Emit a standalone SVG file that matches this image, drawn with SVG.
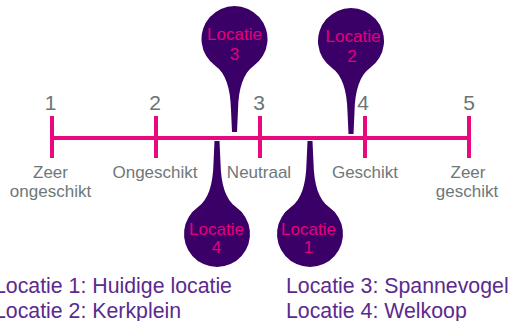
<svg xmlns="http://www.w3.org/2000/svg" width="510" height="321" viewBox="0 0 510 321">
<defs>
<style>
.scale{stroke:#e8097f;stroke-width:4;fill:none}
.num{font-family:"Liberation Sans",Arial,sans-serif;font-size:21px;fill:#6b7575;text-anchor:middle}
.lbl{font-family:"Liberation Sans",Arial,sans-serif;font-size:17px;fill:#6e7878;text-anchor:middle}
.pin{fill:#3a0068}
.pt{font-family:"Liberation Sans",Arial,sans-serif;font-size:17px;fill:#e4007c;text-anchor:middle}
.leg{font-family:"Liberation Sans",Arial,sans-serif;font-size:21.3px;fill:#5b2a8d}
</style>
<path id="drop" d="M -19,27 A 33 33 0 1 1 19,27 C 9,34 4,49 3.5,71 L 2.5,93 L -2.5,93 L -3.5,71 C -4,49 -9,34 -19,27 Z"/>
</defs>
<rect width="510" height="321" fill="#ffffff"/>
<g id="connectors">
<line class="scale" x1="52" y1="138" x2="469" y2="138"/>
<line class="scale" x1="52" y1="116" x2="52" y2="158"/>
<line class="scale" x1="156" y1="116" x2="156" y2="158"/>
<line class="scale" x1="260" y1="116" x2="260" y2="158"/>
<line class="scale" x1="365" y1="116" x2="365" y2="158"/>
<line class="scale" x1="469" y1="116" x2="469" y2="158"/>
</g>
<g id="numbers">
<text class="num" x="50.5" y="110">1</text>
<text class="num" x="155" y="110">2</text>
<text class="num" x="259" y="110">3</text>
<text class="num" x="363" y="110">4</text>
<text class="num" x="469" y="110">5</text>
</g>
<g id="labels">
<text class="lbl" x="50.5" y="178">Zeer</text>
<text class="lbl" x="50.5" y="197">ongeschikt</text>
<text class="lbl" x="155" y="178">Ongeschikt</text>
<text class="lbl" x="259" y="178">Neutraal</text>
<text class="lbl" x="365" y="178">Geschikt</text>
<text class="lbl" x="468" y="178">Zeer</text>
<text class="lbl" x="467" y="197">geschikt</text>
</g>
<g id="pin3">
<use href="#drop" class="pin" transform="translate(234.5,39)"/>
<text class="pt" x="234.5" y="40">Locatie</text>
<text class="pt" x="234.5" y="60">3</text>
</g>
<g id="pin2">
<use href="#drop" class="pin" transform="translate(351,41)"/>
<text class="pt" x="353" y="42">Locatie</text>
<text class="pt" x="352" y="62">2</text>
</g>
<g id="pin4">
<use href="#drop" class="pin" transform="translate(217,234) scale(1,-1)"/>
<text class="pt" x="216.5" y="235">Locatie</text>
<text class="pt" x="216.5" y="253">4</text>
</g>
<g id="pin1">
<use href="#drop" class="pin" transform="translate(310,234) scale(1,-1)"/>
<text class="pt" x="308.5" y="235">Locatie</text>
<text class="pt" x="308.5" y="253">1</text>
</g>
<g id="legend">
<text class="leg" x="-6" y="293">Locatie 1: Huidige locatie</text>
<text class="leg" x="-6" y="318">Locatie 2: Kerkplein</text>
<text class="leg" x="286" y="293">Locatie 3: Spannevogel</text>
<text class="leg" x="286" y="318">Locatie 4: Welkoop</text>
</g>
</svg>
